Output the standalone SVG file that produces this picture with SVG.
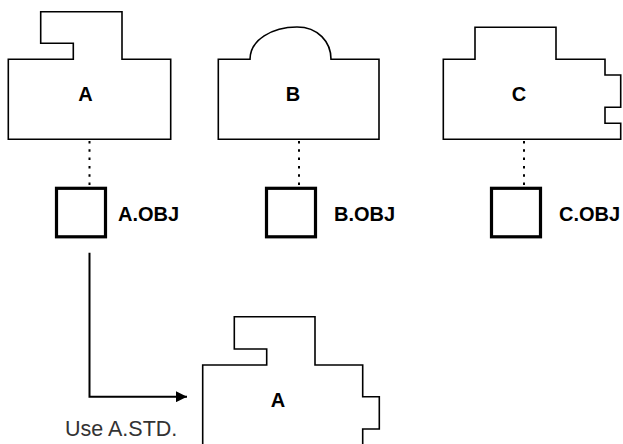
<svg xmlns="http://www.w3.org/2000/svg" width="623" height="444" viewBox="0 0 623 444">
  <style>
    .shape { fill: #fff; stroke: #000; stroke-width: 1.6; stroke-linejoin: miter; }
    .obj { fill: #fff; stroke: #000; stroke-width: 3.2; }
    .lbl { font-family: "Liberation Sans", Arial, sans-serif; font-weight: bold; font-size: 20px; fill: #000; }
    .big { text-anchor: middle; }
    .dot { stroke: #000; stroke-width: 2; stroke-dasharray: 2.5 5.8; fill: none; }
    .conn { stroke: #000; stroke-width: 2; fill: none; }
    .note { font-family: "Liberation Sans", Arial, sans-serif; font-size: 21.5px; fill: #333; }
  </style>
  <defs>
    <marker id="arrow" viewBox="0 0 10 10" refX="10" refY="5" markerWidth="5.5" markerHeight="5.5" markerUnits="strokeWidth" orient="auto">
      <path d="M0,0 L10,5 L0,10 Z" fill="#000"/>
    </marker>
  </defs>

  <g id="connectors">
    <line class="dot" x1="89.5" y1="141" x2="89.5" y2="187"/>
    <line class="dot" x1="299" y1="141" x2="299" y2="187"/>
    <line class="dot" x1="524" y1="141" x2="524" y2="187"/>
    <path class="conn" d="M89.5,252.7 V396.7 H187" marker-end="url(#arrow)"/>
    <text class="note" x="65" y="436">Use A.STD.</text>
  </g>

  <g id="node-a">
    <path class="shape" d="M40.7,11.7 H122 V59.3 H170.7 V139.3 H8.3 V59.3 H73.3 V43.3 H40.7 Z"/>
    <text class="lbl big" x="85.5" y="101">A</text>
  </g>
  <g id="node-b">
    <path class="shape" d="M218.3,59.3 H250 C250,40 272,27 297,27 C318,27 331,42 331,59.3 H379 V139.3 H218.3 Z"/>
    <text class="lbl big" x="293" y="101">B</text>
  </g>
  <g id="node-c">
    <path class="shape" d="M443.3,59.3 H475 V27.3 H556 V59.3 H605 V75 H620.7 V107.3 H605 V123.3 H620.7 V139.3 H443.3 Z"/>
    <text class="lbl big" x="519" y="101">C</text>
  </g>

  <g id="obj-a">
    <rect class="obj" x="56.5" y="188.3" width="49" height="48.5"/>
    <text class="lbl" x="118" y="221">A.OBJ</text>
  </g>
  <g id="obj-b">
    <rect class="obj" x="266.5" y="188.3" width="49" height="48.5"/>
    <text class="lbl" x="334" y="221">B.OBJ</text>
  </g>
  <g id="obj-c">
    <rect class="obj" x="491.5" y="188.3" width="49" height="48.5"/>
    <text class="lbl" x="559" y="221">C.OBJ</text>
  </g>

  <g id="node-a-std">
    <path class="shape" d="M202.7,446 V365 H266.7 V349 H234.3 V316.7 H315 V365 H362.7 V396.7 H379.3 V429 H362.7 V446"/>
    <text class="lbl big" x="278" y="407">A</text>
  </g>
</svg>
